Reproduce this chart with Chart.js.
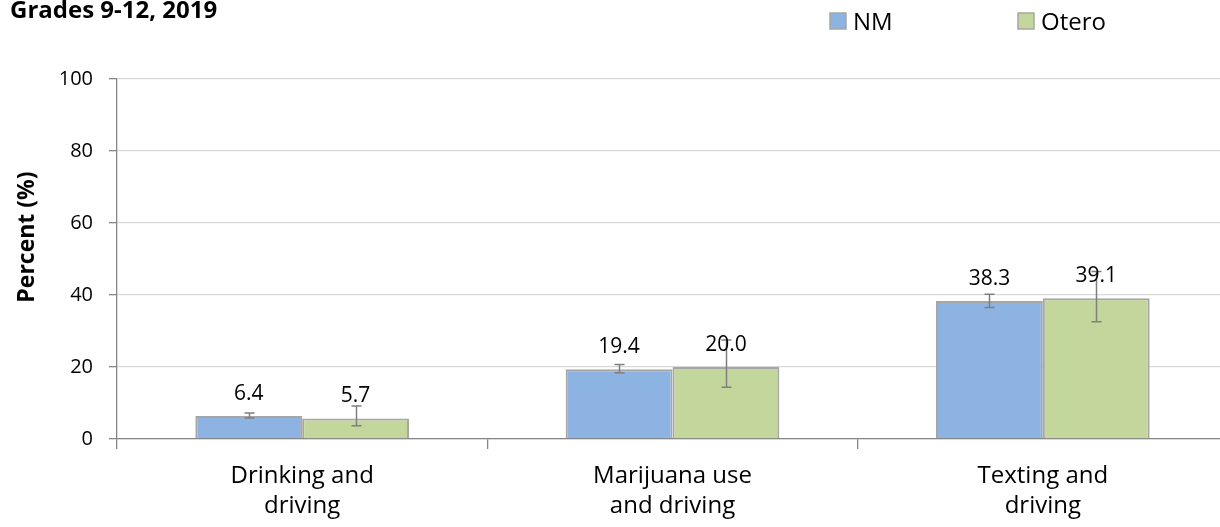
<!DOCTYPE html>
<html><head><meta charset="utf-8">
<script src="https://cdn.jsdelivr.net/npm/chart.js@4/dist/chart.umd.min.js"></script>
<style>
html,body{margin:0;padding:0;overflow:hidden;background:#fff;width:1220px;height:527px}
#wrap{position:relative;width:1228px;height:527px}
</style></head>
<body><div id="wrap"><canvas id="c" width="1228" height="527"></canvas></div>
<script>
const categories = [["Drinking and","driving"],["Marijuana use","and driving"],["Texting and","driving"]];
const seriesNames = ["NM","Otero"];
const nmValues = [6.4, 19.4, 38.3];
const oteroValues = [5.7, 20.0, 39.1];
const nmLower = [5.8, 18.4, 36.5];
const nmUpper = [7.2, 20.7, 40.2];
const oteroLower = [3.7, 14.4, 32.6];
const oteroUpper = [9.2, 27.5, 46.5];
const yTicks = [0, 20, 40, 60, 80, 100];
const chartTitle = "Grades 9-12, 2019";
const yTitle = "Percent (%)";

const FONT = '"Open Sans", "DejaVu Sans", sans-serif';
const colors = ['#8db3e2', '#c3d69b'];
const errors = [[nmLower, nmUpper], [oteroLower, oteroUpper]];

const overlay = {
  id: 'overlay',
  afterDatasetsDraw(chart) {
    const ctx = chart.ctx;
    const y = chart.scales.y;
    ctx.save();
    chart.data.datasets.forEach((ds, di) => {
      const meta = chart.getDatasetMeta(di);
      meta.data.forEach((bar, i) => {
        const lo = y.getPixelForValue(errors[di][0][i]);
        const hi = y.getPixelForValue(errors[di][1][i]);
        const x = Math.round(bar.x) + 0.5;
        ctx.strokeStyle = '#7f7f7f';
        ctx.lineWidth = 1.5;
        ctx.beginPath();
        ctx.moveTo(x, lo); ctx.lineTo(x, hi);
        ctx.moveTo(x - 5, lo); ctx.lineTo(x + 5, lo);
        ctx.moveTo(x - 5, hi); ctx.lineTo(x + 5, hi);
        ctx.stroke();
        ctx.fillStyle = '#000';
        ctx.font = '21px ' + FONT;
        ctx.textAlign = 'center';
        ctx.textBaseline = 'alphabetic';
        ctx.fillText(ds.data[i].toFixed(1), bar.x, bar.y - 16);
      });
    });
    // title
    ctx.fillStyle = '#000';
    ctx.textAlign = 'left';
    ctx.font = 'bold 24px ' + FONT;
    ctx.fillText(chartTitle, 10, 18);
    // legend
    const legendX = [830, 1018];
    seriesNames.forEach((name, i) => {
      ctx.fillStyle = colors[i];
      ctx.fillRect(legendX[i], 13, 16, 16);
      ctx.strokeStyle = '#a6a6a6';
      ctx.lineWidth = 1.5;
      ctx.strokeRect(legendX[i], 13, 16, 16);
      ctx.fillStyle = '#000';
      ctx.font = '24px ' + FONT;
      ctx.fillText(name, legendX[i] + 23, 30);
    });
    // y title
    ctx.translate(27, 237);
    ctx.rotate(-Math.PI / 2);
    ctx.textAlign = 'center';
    ctx.textBaseline = 'middle';
    ctx.font = 'bold 23px ' + FONT;
    ctx.fillText(yTitle, 0, 0);
    ctx.restore();
  }
};

new Chart(document.getElementById('c'), {
  type: 'bar',
  data: {
    labels: categories,
    datasets: [
      { label: seriesNames[0], data: nmValues, backgroundColor: colors[0], borderColor: '#a6a6a6', borderWidth: 2 },
      { label: seriesNames[1], data: oteroValues, backgroundColor: colors[1], borderColor: '#a6a6a6', borderWidth: 2 }
    ]
  },
  options: {
    responsive: false,
    animation: false,
    categoryPercentage: 0.577,
    barPercentage: 1.0,
    layout: { padding: { top: 79, left: 0, right: 0, bottom: 0 } },
    plugins: { legend: { display: false }, tooltip: { enabled: false } },
    scales: {
      y: {
        min: 0, max: 100,
        afterBuildTicks(scale) { scale.ticks = yTicks.map(v => ({ value: v })); },
        afterFit(scale) { scale.width = 117; },
        ticks: { color: '#000', font: { size: 20, family: FONT }, padding: 16 },
        grid: { color: '#d9d9d9', lineWidth: 1.3, tickColor: '#868686', tickLength: 8 },
        border: { color: '#868686', width: 1.3 }
      },
      x: {
        afterFit(scale) { scale.height = 88; },
        ticks: { color: '#000', font: { size: 24, family: FONT, lineHeight: 1.25 }, padding: 12, maxRotation: 0 },
        grid: { offset: true, drawOnChartArea: false, drawTicks: true, tickLength: 10, tickColor: '#868686', lineWidth: 1.3 },
        border: { color: '#868686', width: 1.3 }
      }
    }
  },
  plugins: [overlay]
});
</script>
</body></html>
